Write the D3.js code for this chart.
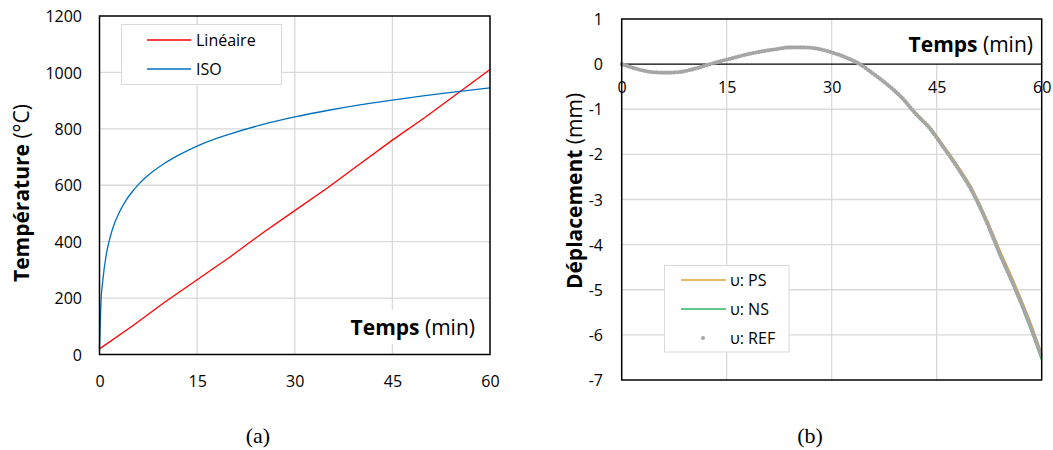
<!DOCTYPE html>
<html><head><meta charset="utf-8">
<script src="https://cdn.jsdelivr.net/npm/d3@7"></script>
<style>
html,body{margin:0;padding:0;background:#fff;}
svg text{font-family:"Open Sans",sans-serif;fill:#000;}
</style></head>
<body>
<svg id="c" width="1053" height="450"></svg>
<script>
// ---- Data: chart (a) ----
const timeA = [0, 5, 10, 15, 20, 25, 30, 35, 40, 45, 50, 55, 60];
const lineaire = [20, 100, 185, 265, 345, 430, 510, 590, 675, 760, 840, 925, 1010];
const timeIso = [0, 0.25, 0.5, 1, 1.5, 2, 3, 4, 5, 6, 7, 8, 10, 12, 15, 18, 20, 25, 30, 35, 40, 45, 50, 55, 60];
const iso = [20, 195, 261, 349, 404, 445, 502, 544, 576, 603, 626, 645, 678, 705, 739, 766, 781, 815, 842, 865, 885, 902, 918, 932, 945];
const xTicks = [0, 15, 30, 45, 60];
const yTicksA = [0, 200, 400, 600, 800, 1000, 1200];
// ---- Data: chart (b) ----
const timeB = [0, 2, 4, 6, 8, 10, 12, 14, 16, 18, 20, 22, 24, 26, 28, 30, 32, 34, 36, 38, 40, 42, 44, 46, 48, 50, 52, 54, 56, 58, 60];
const uRef = [0, -0.1, -0.17, -0.19, -0.18, -0.12, -0.03, 0.06, 0.14, 0.22, 0.28, 0.33, 0.37, 0.37, 0.34, 0.26, 0.15, 0.0, -0.22, -0.46, -0.74, -1.1, -1.42, -1.85, -2.3, -2.8, -3.45, -4.2, -4.9, -5.65, -6.5];
const uPS  = [0, -0.1, -0.17, -0.19, -0.18, -0.12, -0.04, 0.05, 0.13, 0.21, 0.27, 0.32, 0.36, 0.36, 0.33, 0.25, 0.14, -0.01, -0.22, -0.45, -0.72, -1.07, -1.38, -1.8, -2.24, -2.73, -3.37, -4.1, -4.8, -5.55, -6.4];
const uNS  = [0, -0.1, -0.18, -0.2, -0.19, -0.13, -0.04, 0.05, 0.13, 0.21, 0.27, 0.32, 0.36, 0.36, 0.33, 0.25, 0.14, -0.01, -0.23, -0.47, -0.76, -1.12, -1.45, -1.88, -2.33, -2.84, -3.49, -4.25, -4.95, -5.72, -6.57];
const yTicksB = [1, 0, -1, -2, -3, -4, -5, -6, -7];

const svg = d3.select("#c");
const GRID = "#D9D9D9";
const fmt = d => String(d);

// ================= Chart (a) =================
const xa = d3.scaleLinear().domain([0, 60]).range([99.5, 490]);
const ya = d3.scaleLinear().domain([0, 1200]).range([354.5, 16]);
const ga = svg.append("g");
ga.selectAll(".hg").data(yTicksA.slice(1, -1)).join("line")
  .attr("x1", xa(0)).attr("x2", xa(60)).attr("y1", d => ya(d)).attr("y2", d => ya(d))
  .attr("stroke", GRID).attr("stroke-width", 1.3);
ga.selectAll(".vg").data(xTicks.slice(1, -1)).join("line")
  .attr("x1", d => xa(d)).attr("x2", d => xa(d)).attr("y1", ya(0)).attr("y2", ya(1200))
  .attr("stroke", GRID).attr("stroke-width", 1.3);
const lblA = ga.append("text").attr("x", 475).attr("y", 335).attr("text-anchor", "end").style("font-size", "21px");
lblA.append("tspan").attr("font-weight", "bold").text("Temps");
lblA.append("tspan").text(" (min)");
const bbA = lblA.node().getBBox();
ga.insert("rect", "text").attr("x", bbA.x - 3).attr("y", bbA.y - 3).attr("width", bbA.width + 6).attr("height", bbA.height + 6).attr("fill", "#fff");

ga.append("path").datum(d3.zip(timeA, lineaire)).attr("fill", "none").attr("stroke", "#FF0000").attr("stroke-width", 1.3)
  .attr("d", d3.line().x(d => xa(d[0])).y(d => ya(d[1])));
ga.append("path").datum(d3.zip(timeIso, iso)).attr("fill", "none").attr("stroke", "#0070C0").attr("stroke-width", 1.3)
  .attr("d", d3.line().curve(d3.curveMonotoneX).x(d => xa(d[0])).y(d => ya(d[1])));
ga.append("rect").attr("x", xa(0)).attr("y", ya(1200)).attr("width", xa(60) - xa(0)).attr("height", ya(0) - ya(1200))
  .attr("fill", "none").attr("stroke", "#000").attr("stroke-width", 1.5);

const axA = ga.append("g").attr("transform", `translate(0,${ya(0)})`)
  .call(d3.axisBottom(xa).tickValues(xTicks).tickFormat(fmt).tickSize(0).tickPadding(0));
axA.select(".domain").remove();
axA.selectAll("text").attr("y", 32).attr("dy", null).style("font-size", "16px").style("font-family", "'Open Sans',sans-serif").attr("fill", "#000");
const ayA = ga.append("g").attr("transform", `translate(82,0)`)
  .call(d3.axisLeft(ya).tickValues(yTicksA).tickFormat(fmt).tickSize(0).tickPadding(0));
ayA.select(".domain").remove();
ayA.selectAll("text").attr("dy", "0.35em").style("font-size", "16px").style("font-family", "'Open Sans',sans-serif").attr("fill", "#000");

const tA = ga.append("text").attr("transform", "translate(29,193) rotate(-90)").attr("text-anchor", "middle").style("font-size", "21px");
tA.append("tspan").attr("font-weight", "bold").text("Température");
tA.append("tspan").text(" (°C)");

// legend (a)
const legA = [{name: "Linéaire", color: "#FF0000"}, {name: "ISO", color: "#0070C0"}];
ga.append("rect").attr("x", 121.5).attr("y", 24.5).attr("width", 160).attr("height", 60).attr("fill", "#fff").attr("stroke", GRID).attr("stroke-width", 1);
legA.forEach((d, i) => {
  const y = 40 + i * 29;
  ga.append("line").attr("x1", 147).attr("x2", 191).attr("y1", y).attr("y2", y).attr("stroke", d.color).attr("stroke-width", 1.5);
  ga.append("text").attr("x", 196).attr("y", y + 6).style("font-size", "16px").text(d.name);
});

// ================= Chart (b) =================
const xb = d3.scaleLinear().domain([0, 60]).range([621.7, 1041.7]);
const yb = d3.scaleLinear().domain([-7, 1]).range([380, 19]);
const gb = svg.append("g");
gb.selectAll(".hg").data(yTicksB.filter(d => d < 0 && d > -7)).join("line")
  .attr("x1", xb(0)).attr("x2", xb(60)).attr("y1", d => yb(d)).attr("y2", d => yb(d))
  .attr("stroke", GRID).attr("stroke-width", 1.3);
gb.selectAll(".vg").data(xTicks.slice(1, -1)).join("line")
  .attr("x1", d => xb(d)).attr("x2", d => xb(d)).attr("y1", yb(-7)).attr("y2", yb(1))
  .attr("stroke", GRID).attr("stroke-width", 1.3);
const lblB = gb.append("text").attr("x", 1033).attr("y", 52).attr("text-anchor", "end").style("font-size", "21px");
lblB.append("tspan").attr("font-weight", "bold").text("Temps");
lblB.append("tspan").text(" (min)");
const bbB = lblB.node().getBBox();
gb.insert("rect", "text").attr("x", bbB.x - 3).attr("y", yb(1)).attr("width", bbB.width + 6).attr("height", yb(0) - yb(1)).attr("fill", "#fff");

gb.append("line").attr("x1", xb(0)).attr("x2", xb(60)).attr("y1", yb(0)).attr("y2", yb(0)).attr("stroke", "#000").attr("stroke-width", 1.3);

const lineB = d3.line().curve(d3.curveMonotoneX).x(d => xb(d[0])).y(d => yb(d[1]));
gb.append("path").datum(d3.zip(timeB, uPS)).attr("fill", "none").attr("stroke", "#D9A630").attr("stroke-width", 1.3).attr("d", lineB);
gb.append("path").datum(d3.zip(timeB, uNS)).attr("fill", "none").attr("stroke", "#2DB46A").attr("stroke-width", 1.3).attr("d", lineB);
gb.append("path").datum(d3.zip(timeB, uRef)).attr("fill", "none").attr("stroke", "#A6A6A6").attr("stroke-width", 4.2)
  .attr("stroke-linecap", "round").attr("stroke-dasharray", "0 3").attr("d", lineB);

gb.append("rect").attr("x", xb(0)).attr("y", yb(1)).attr("width", xb(60) - xb(0)).attr("height", yb(-7) - yb(1))
  .attr("fill", "none").attr("stroke", "#000").attr("stroke-width", 1.5);

const axB = gb.append("g").attr("transform", `translate(0,${yb(0)})`)
  .call(d3.axisBottom(xb).tickValues(xTicks).tickFormat(fmt).tickSize(0).tickPadding(0));
axB.select(".domain").remove();
axB.selectAll("text").attr("y", 29).attr("dy", null).style("font-size", "16px").style("font-family", "'Open Sans',sans-serif").attr("fill", "#000");
const ayB = gb.append("g").attr("transform", `translate(603,0)`)
  .call(d3.axisLeft(yb).tickValues(yTicksB).tickFormat(fmt).tickSize(0).tickPadding(0));
ayB.select(".domain").remove();
ayB.selectAll("text").attr("dy", "0.35em").style("font-size", "16px").style("font-family", "'Open Sans',sans-serif").attr("fill", "#000");

const tB = gb.append("text").attr("transform", "translate(582,191) rotate(-90)").attr("text-anchor", "middle").style("font-size", "21px");
tB.append("tspan").attr("font-weight", "bold").text("Déplacement");
tB.append("tspan").text(" (mm)");

// legend (b)
gb.append("rect").attr("x", 664.5).attr("y", 265.5).attr("width", 124.5).attr("height", 86.5).attr("fill", "#fff").attr("stroke", GRID).attr("stroke-width", 1);
const legB = [{name: "υ: PS", color: "#D9A630", type: "line"}, {name: "υ: NS", color: "#2DB46A", type: "line"}, {name: "υ: REF", color: "#A6A6A6", type: "dot"}];
legB.forEach((d, i) => {
  const y = 280 + i * 29;
  if (d.type === "line") gb.append("line").attr("x1", 681).attr("x2", 726).attr("y1", y).attr("y2", y).attr("stroke", d.color).attr("stroke-width", 1.5);
  else gb.append("circle").attr("cx", 703).attr("cy", y).attr("r", 2).attr("fill", d.color);
  gb.append("text").attr("x", 730).attr("y", y + 6).style("font-size", "16px").text(d.name);
});

// captions
svg.append("text").attr("x", 258).attr("y", 443).attr("text-anchor", "middle").style("font-family", "'Liberation Serif',serif").style("font-size", "22px").text("(a)");
svg.append("text").attr("x", 810).attr("y", 443).attr("text-anchor", "middle").style("font-family", "'Liberation Serif',serif").style("font-size", "22px").text("(b)");
</script>
</body></html>
